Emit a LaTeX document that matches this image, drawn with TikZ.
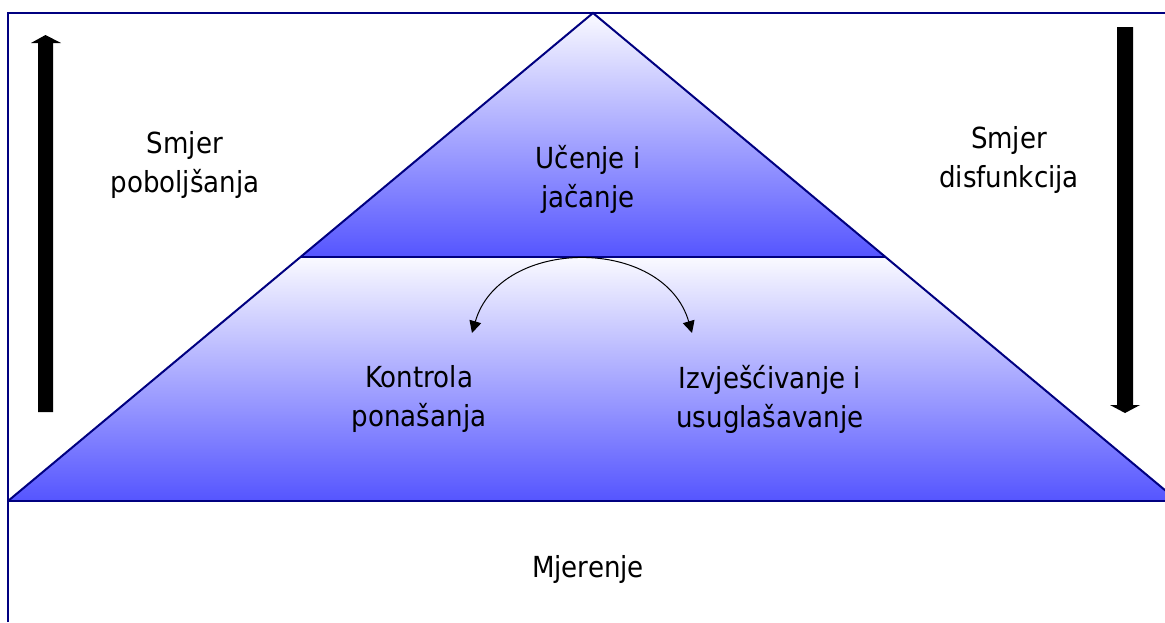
\documentclass[tikz,border=0pt]{standalone}
\usepackage{fontspec}
\setmainfont[FakeStretch=0.9]{DejaVu Sans}
\usetikzlibrary{arrows.meta}
\definecolor{pyrline}{RGB}{0,0,128}
\definecolor{pyrtop}{RGB}{250,250,255}
\definecolor{pyrbot}{RGB}{85,85,255}
\begin{document}
\begin{tikzpicture}[x=0.5pt,y=-0.5pt,
    txt/.style={align=center, font=\fontsize{14.5pt}{19.5pt}\selectfont},
    edge/.style={draw=pyrline, line width=1pt},
    swaparrow/.style={{Triangle[length=6pt,width=6pt]}-{Triangle[length=6pt,width=6pt]}, line width=0.5pt}]
    \useasboundingbox (0,0) rectangle (1165,622);
    \clip (0,0) rectangle (1165,622);

    % Pyramid corners
    \coordinate (apex) at (593,13);
    \coordinate (midL) at (300.5,257);
    \coordinate (midR) at (885.5,257);
    \coordinate (baseL) at (8,501);
    \coordinate (baseR) at (1178,501);

    % Shaded layers
    \shade[top color=pyrtop, bottom color=pyrbot] (apex) -- (midR) -- (midL) -- cycle;
    \shade[top color=pyrtop, bottom color=pyrbot] (midL) -- (midR) -- (baseR) -- (baseL) -- cycle;

    % Frame and outlines
    \draw[edge] (8,622) -- (8,13) -- (1165,13);
    \draw[edge] (baseL) -- (1165,501);
    \draw[edge] (midL) -- (midR);
    \draw[edge] (baseL) -- (apex) -- (baseR);

    % Direction arrows
    \fill (38,412) -- (38,43) -- (31,43) -- (45.5,35) -- (61,43) -- (53,43) -- (53,412) -- cycle;
    \fill (1117,27) -- (1117,405) -- (1110,405) -- (1125,413) -- (1140,405) -- (1133,405) -- (1133,27) -- cycle;

    % Labels
    \node[txt] (up) at (185,165) {Smjer\\poboljšanja};
    \node[txt] (down) at (1009,160) {Smjer\\disfunkcija};
    \node[txt] (learn) at (588,179) {Učenje i\\jačanje};
    \node[txt] (control) at (419,399) {Kontrola\\ponašanja};
    \node[txt] (report) at (770,399) {Izvješćivanje i\\usuglašavanje};
    \node[txt] (measure) at (588,569) {Mjerenje};

    % Exchange between the two lower blocks
    \coordinate (ctrlEnd) at (472,333);
    \coordinate (repEnd) at (692,333);
    \draw[swaparrow] (ctrlEnd) .. controls (500,236) and (664,236) .. (repEnd);
\end{tikzpicture}
\end{document}
